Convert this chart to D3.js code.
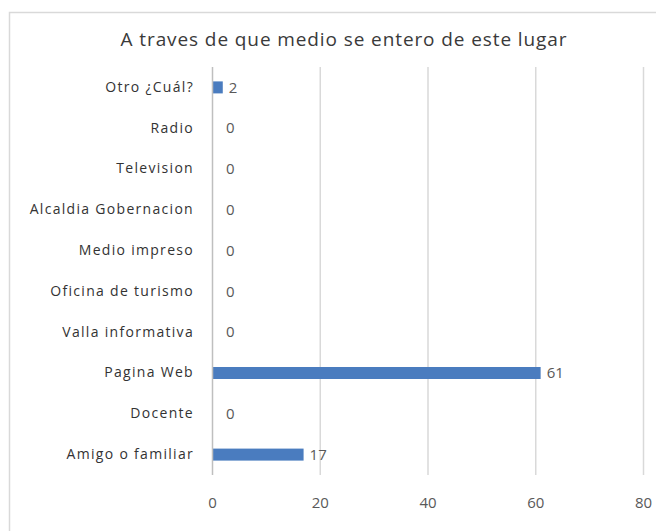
<!DOCTYPE html>
<html><head><meta charset="utf-8">
<script src="https://cdn.jsdelivr.net/npm/d3@7"></script>
<style>body{margin:0;background:#fff}svg{display:block}</style>
</head><body><svg id="c" width="656" height="531"></svg>
<script>
const title = "A traves de que medio se entero de este lugar";
const categories = ["Otro ¿Cuál?","Radio","Television","Alcaldia Gobernacion","Medio impreso","Oficina de turismo","Valla informativa","Pagina Web","Docente","Amigo o familiar"];
const values = [2,0,0,0,0,0,0,61,0,17];
const xTicks = [0,20,40,60,80];

const svg = d3.select("#c");
const font = "'Open Sans', Lato, sans-serif";
// chart area border
svg.append("path").attr("d","M9.5,531 V12.5 H656").attr("fill","none").attr("stroke","#d9d9d9").attr("stroke-width",1.5);

svg.append("text").attr("x",344).attr("y",46).attr("text-anchor","middle")
  .attr("font-family",font).attr("font-size",19).attr("letter-spacing",0.9).attr("fill","#3a3a3a").text(title);

const x = d3.scaleLinear().domain([0,80]).range([212,643]);
const yc = d3.scaleBand().domain(categories).range([67,475]);

// gridlines
svg.append("g").selectAll("line").data(xTicks.slice(1)).join("line")
  .attr("x1",d=>x(d)+0.5).attr("x2",d=>x(d)+0.5).attr("y1",67).attr("y2",475)
  .attr("stroke","#d9d9d9").attr("stroke-width",1.5);

// x axis tick labels
const xa = svg.append("g").attr("transform","translate(0,475)")
  .call(d3.axisBottom(x).tickValues(xTicks).tickSize(0).tickPadding(22));
xa.select(".domain").remove();
xa.selectAll("text").attr("font-family",font).attr("font-size",15).attr("fill","#595959");

// bars
svg.append("g").selectAll("rect").data(categories).join("rect")
  .attr("x",x(0)).attr("y",(d,i)=>yc(d)+yc.bandwidth()/2-6)
  .attr("width",(d,i)=>x(values[i])-x(0)).attr("height",12)
  .attr("fill","#4a7cbf");

// zero axis line
svg.append("line").attr("x1",x(0)+0.5).attr("x2",x(0)+0.5).attr("y1",67).attr("y2",475)
  .attr("stroke","#bfbfbf").attr("stroke-width",1.5);

// category labels
const ya = svg.append("g").attr("transform",`translate(${x(0)},0)`)
  .call(d3.axisLeft(yc).tickSize(0).tickPadding(18));
ya.select(".domain").remove();
ya.selectAll("text").attr("font-family",font).attr("font-size",14).attr("letter-spacing",1.3).attr("fill","#333333");

// value labels
svg.append("g").selectAll("text").data(categories).join("text")
  .attr("x",(d,i)=>x(values[i]) + (values[i]===0 ? 14 : 6)).attr("y",d=>yc(d)+yc.bandwidth()/2)
  .attr("dy","0.35em").attr("font-family",font).attr("font-size",15).attr("fill","#595959")
  .text((d,i)=>values[i]);
</script></body></html>
